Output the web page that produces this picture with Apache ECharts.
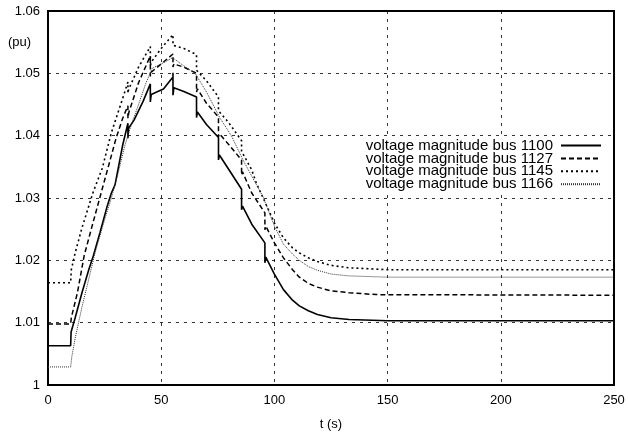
<!DOCTYPE html>
<html>
<head>
<meta charset="utf-8">
<script src="https://cdn.jsdelivr.net/npm/echarts@6/dist/echarts.min.js"></script>
<style>
html,body{margin:0;padding:0;background:#fff;}
#chart{width:628px;height:438px;}
</style>
</head>
<body>
<div id="chart"></div>
<script>
const seriesNames = ["voltage magnitude bus 1100","voltage magnitude bus 1127","voltage magnitude bus 1145","voltage magnitude bus 1166"];
const xTicks = [0,50,100,150,200,250];
const yTicks = [1,1.01,1.02,1.03,1.04,1.05,1.06];

const bus1100 = [[0,1.0063],[10,1.0063],[10.2,1.0085],[12,1.0108],[15,1.0148],[18,1.0185],[20,1.0207],[23,1.0245],[26,1.0285],[28,1.0308],[29.6,1.0321],[30.2,1.0324],[33,1.0385],[35.3,1.0420],[35.3,1.0396],[35.6,1.0412],[38,1.0425],[42,1.0455],[45.2,1.0483],[45.2,1.0454],[45.6,1.0466],[48,1.0470],[51,1.0475],[55.2,1.0494],[55.2,1.0501],[55.2,1.0465],[55.6,1.0477],[60,1.0471],[65.6,1.0462],[65.6,1.0429],[66,1.0438],[70,1.0418],[75.3,1.0397],[75.3,1.0361],[75.7,1.0369],[80,1.0345],[85.5,1.0314],[85.5,1.0281],[85.9,1.0287],[90,1.0258],[95.8,1.0228],[95.8,1.0196],[96.2,1.0205],[100,1.0178],[104,1.0153],[108,1.0136],[111,1.0127],[115,1.0119],[119,1.0113],[125,1.0108],[133,1.0105],[150,1.0103],[250,1.0103]];

const bus1127 = [[0,1.0098],[10,1.0098],[10.3,1.0108],[13,1.0148],[16,1.0208],[20,1.0262],[23,1.0302],[27,1.0355],[30,1.0395],[33,1.0428],[35.3,1.0448],[35.3,1.0428],[35.7,1.0437],[40,1.0485],[45.2,1.0528],[45.2,1.0495],[45.6,1.0502],[50,1.0515],[55.2,1.0531],[55.2,1.0510],[55.6,1.0515],[60,1.0510],[65.6,1.0500],[65.6,1.0470],[66,1.0475],[70,1.0452],[75.3,1.0430],[75.3,1.0398],[75.7,1.0403],[80,1.0385],[85.5,1.0361],[85.5,1.0337],[85.9,1.0342],[90,1.0308],[95.8,1.0276],[95.8,1.0249],[96.2,1.0255],[100,1.0228],[104,1.0204],[108,1.0185],[111,1.0173],[115,1.0163],[119,1.0157],[125,1.0151],[133,1.0148],[145,1.0145],[250,1.0144]];

const bus1145 = [[0,1.0164],[10,1.0164],[10.3,1.0185],[12,1.0212],[15,1.0252],[20,1.0310],[24,1.0348],[28,1.0405],[33,1.0460],[35.3,1.0486],[35.3,1.0468],[35.6,1.0474],[40,1.0510],[45.2,1.0543],[45.2,1.0512],[45.6,1.0518],[50,1.0540],[55.2,1.0562],[55.2,1.0545],[55.6,1.0548],[60,1.0540],[65.6,1.0530],[65.6,1.0505],[66,1.0508],[70,1.0488],[75.3,1.0462],[75.3,1.0440],[75.7,1.0443],[80,1.0420],[85.5,1.0392],[85.5,1.0375],[85.9,1.0378],[90,1.0345],[92,1.0324],[95.8,1.0294],[100,1.0260],[104,1.0236],[108,1.0220],[111,1.0212],[115,1.0204],[119,1.0198],[125,1.0192],[133,1.0188],[150,1.0185],[250,1.0185]];

const bus1166 = [[0,1.0029],[10,1.0029],[10.5,1.0045],[12,1.0075],[15,1.0125],[18,1.0170],[21,1.0215],[25,1.0265],[28,1.0300],[31,1.0340],[34,1.0385],[37,1.0420],[40,1.0450],[43,1.0482],[46,1.0508],[50,1.0515],[55,1.0525],[60,1.0512],[65,1.0500],[70,1.0470],[76,1.0428],[81,1.0400],[86,1.0362],[90,1.0335],[95,1.0302],[100,1.0255],[104,1.0226],[108,1.0210],[111,1.0200],[115,1.0190],[119,1.0184],[125,1.0178],[133,1.0175],[150,1.0173],[250,1.0173]];

const FONT = '"Liberation Sans", Arial, sans-serif';
const chart = echarts.init(document.getElementById('chart'), null, {renderer:'canvas'});

const styles = [
  {type:'solid', width:1.6, color:'#000'},
  {type:[5,3], width:1.5, color:'#000'},
  {type:[2,3], width:1.6, color:'#000'},
  {type:[1,1], width:1, color:'#333'}
];
const datas = [bus1100, bus1127, bus1145, bus1166];

const option = {
  animation:false,
  backgroundColor:'#fff',
  grid:{left:48, right:14, top:11, bottom:53, show:true, borderColor:'#000', borderWidth:2, backgroundColor:'transparent'},
  legend:{
    data:seriesNames,
    orient:'vertical',
    align:'right',
    right:24,
    top:137,
    itemWidth:40,
    itemHeight:12,
    itemGap:-2.1,
    padding:[1,2,1,2],
    backgroundColor:'#fff',
    itemStyle:{opacity:0},
    textStyle:{fontFamily:FONT, fontSize:15, color:'#000', padding:[0,3,0,0]}
  },
  xAxis:{
    type:'value', min:0, max:250, interval:50,
    name:'t (s)', nameLocation:'middle', nameGap:33,
    nameTextStyle:{fontFamily:FONT, fontSize:13, color:'#000'},
    axisLine:{show:true, lineStyle:{color:'#000', width:2}},
    axisTick:{show:false},
    axisLabel:{fontFamily:FONT, fontSize:13, color:'#000', margin:9,
      formatter:v=> xTicks.includes(v)? String(v):''},
    splitLine:{show:true, lineStyle:{color:'#000', width:0.8, type:[3,5]}}
  },
  yAxis:{
    type:'value', min:1, max:1.06, interval:0.01,
    axisLine:{show:true, lineStyle:{color:'#000', width:2}},
    axisTick:{show:false},
    axisLabel:{fontFamily:FONT, fontSize:13, color:'#000', margin:8,
      formatter:v=> String(+v.toFixed(2))},
    splitLine:{show:true, lineStyle:{color:'#000', width:0.8, type:[3,5]}}
  },
  graphic:[{type:'text', left:8, top:36, style:{text:'(pu)', font:'13px "Liberation Sans", Arial, sans-serif', fill:'#000'}}],
  series: seriesNames.map((n,i)=>({
    name:n, type:'line', data:datas[i], symbol:'none', showSymbol:false,
    lineStyle:styles[i], itemStyle:{color:styles[i].color},
    z: 3+i
  }))
};
chart.setOption(option);
</script>
</body>
</html>
